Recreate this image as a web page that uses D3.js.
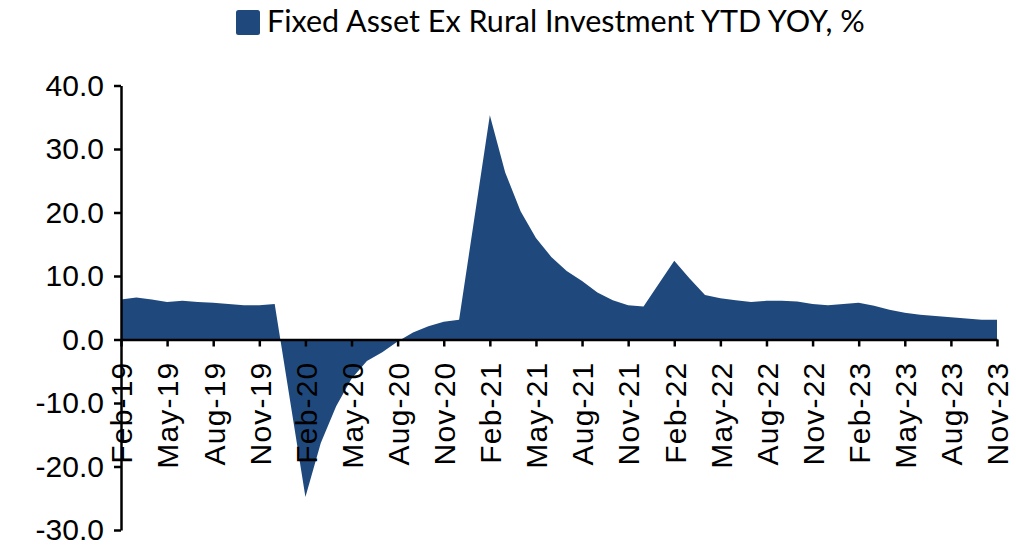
<!DOCTYPE html>
<html>
<head>
<meta charset="utf-8">
<script src="https://cdn.jsdelivr.net/npm/d3@7"></script>
<style>
  html, body { margin: 0; padding: 0; background: #ffffff; }
  #chart svg { display: block; }
  .axis text { font-family: "Liberation Sans", Arial, sans-serif; fill: #000000; }
</style>
</head>
<body>
<div id="chart"></div>
<script>
// Monthly readings (no January points - Jan/Feb are reported together)
const monthNames = ["Feb","Mar","Apr","May","Jun","Jul","Aug","Sep","Oct","Nov","Dec"];
const values2019 = [6.3, 6.6, 6.3, 5.9, 6.1, 5.9, 5.8, 5.6, 5.4, 5.4, 5.6];
const values2020 = [-24.8, -16.3, -10.5, -6.2, -3.4, -2.0, -0.3, 1.1, 2.1, 2.8, 3.1];
const values2021 = [35.3, 26.3, 20.2, 16.0, 13.0, 10.8, 9.2, 7.4, 6.2, 5.4, 5.2];
const values2022 = [12.4, 9.6, 7.0, 6.5, 6.2, 5.9, 6.1, 6.1, 6.0, 5.6, 5.4];
const values2023 = [5.8, 5.3, 4.7, 4.2, 3.9, 3.7, 3.5, 3.3, 3.1, 3.1];

const years = [2019, 2020, 2021, 2022, 2023];
const yearValues = [values2019, values2020, values2021, values2022, values2023];

const tickLabels = ["Feb-19","May-19","Aug-19","Nov-19","Feb-20","May-20","Aug-20","Nov-20",
                    "Feb-21","May-21","Aug-21","Nov-21","Feb-22","May-22","Aug-22","Nov-22",
                    "Feb-23","May-23","Aug-23","Nov-23"];
const yTicks = [-30, -20, -10, 0, 10, 20, 30, 40];
const legendName = "Fixed Asset Ex Rural Investment YTD YOY, %";

function AREA_CHART(){
    return {
        selector: '',
        data: [],
        options: {
            width: 1016,
            height: 545,
            plot: { left: 121, right: 997, top: 85.5, bottom: 530 },
            color: '#1f497d',
            tickSize: 7,
            fontSize: 30
        },

        init: function(el){
            this.selector = el;
            if (d3.select(el).empty()) {
                console.warn('Element "' + el + '" not found');
                return;
            }
            // month offset from Feb-19, one point per reported month
            let self = this;
            years.forEach(function(y, yi){
                yearValues[yi].forEach(function(v, i){
                    self.data.push({ t: (y - 2019) * 12 + i, value: v, label: monthNames[i] + '-' + (y % 100) });
                });
            });
            this.draw();
            return this;
        },

        draw: function(){
            let o = this.options, p = o.plot;

            let xScale = d3.scaleLinear().domain([0, 57]).range([p.left, p.right]);
            let yScale = d3.scaleLinear().domain([-30, 40]).range([p.bottom, p.top]);

            let svg = d3.select(this.selector).append("svg")
                .attr("width", o.width)
                .attr("height", o.height);

            svg.append("rect").attr("width", o.width).attr("height", o.height).attr("fill", "#ffffff");

            // legend / title
            let legend = svg.append("g").attr("class", "legend");
            legend.append("rect")
                .attr("x", 236).attr("y", 10)
                .attr("width", 24).attr("height", 25)
                .attr("rx", 2.5)
                .attr("fill", o.color);
            legend.append("text")
                .attr("x", 267).attr("y", 32)
                .attr("font-family", "Lato, 'Open Sans', sans-serif")
                .attr("font-size", 30.5)
                .attr("fill", "#000000")
                .text(legendName);

            let area = d3.area()
                .x(function(d) { return xScale(d.t); })
                .y0(yScale(0))
                .y1(function(d) { return yScale(d.value); });

            svg.append("path")
                .datum(this.data)
                .attr("fill", o.color)
                .attr("d", area);

            // y axis
            let yAxis = svg.append("g")
                .attr("class", "axis y")
                .attr("transform", "translate(" + p.left + ",0)")
                .call(d3.axisLeft(yScale)
                    .tickValues(yTicks)
                    .tickSize(o.tickSize)
                    .tickSizeOuter(0)
                    .tickPadding(10)
                    .tickFormat(function(d) { return d.toFixed(1); }));
            yAxis.selectAll("text").attr("font-size", o.fontSize).attr("font-family", null);

            // x axis on the zero line
            let xAxis = svg.append("g")
                .attr("class", "axis x")
                .attr("transform", "translate(0," + yScale(0) + ")")
                .call(d3.axisBottom(xScale)
                    .tickValues(d3.range(0, 58, 3))
                    .tickSize(o.tickSize)
                    .tickSizeOuter(0)
                    .tickFormat(function(d, i) { return tickLabels[i]; }));
            xAxis.selectAll("text")
                .attr("font-size", o.fontSize)
                .attr("font-family", null)
                .attr("letter-spacing", 1.2)
                .attr("transform", "rotate(-90)")
                .attr("text-anchor", "end")
                .attr("x", -22)
                .attr("y", 0)
                .attr("dy", "0.36em");

            svg.selectAll(".axis path.domain, .axis .tick line")
                .attr("stroke", "#000000")
                .attr("stroke-width", 2.5);
        }
    };
}

AREA_CHART().init('#chart');
</script>
</body>
</html>
